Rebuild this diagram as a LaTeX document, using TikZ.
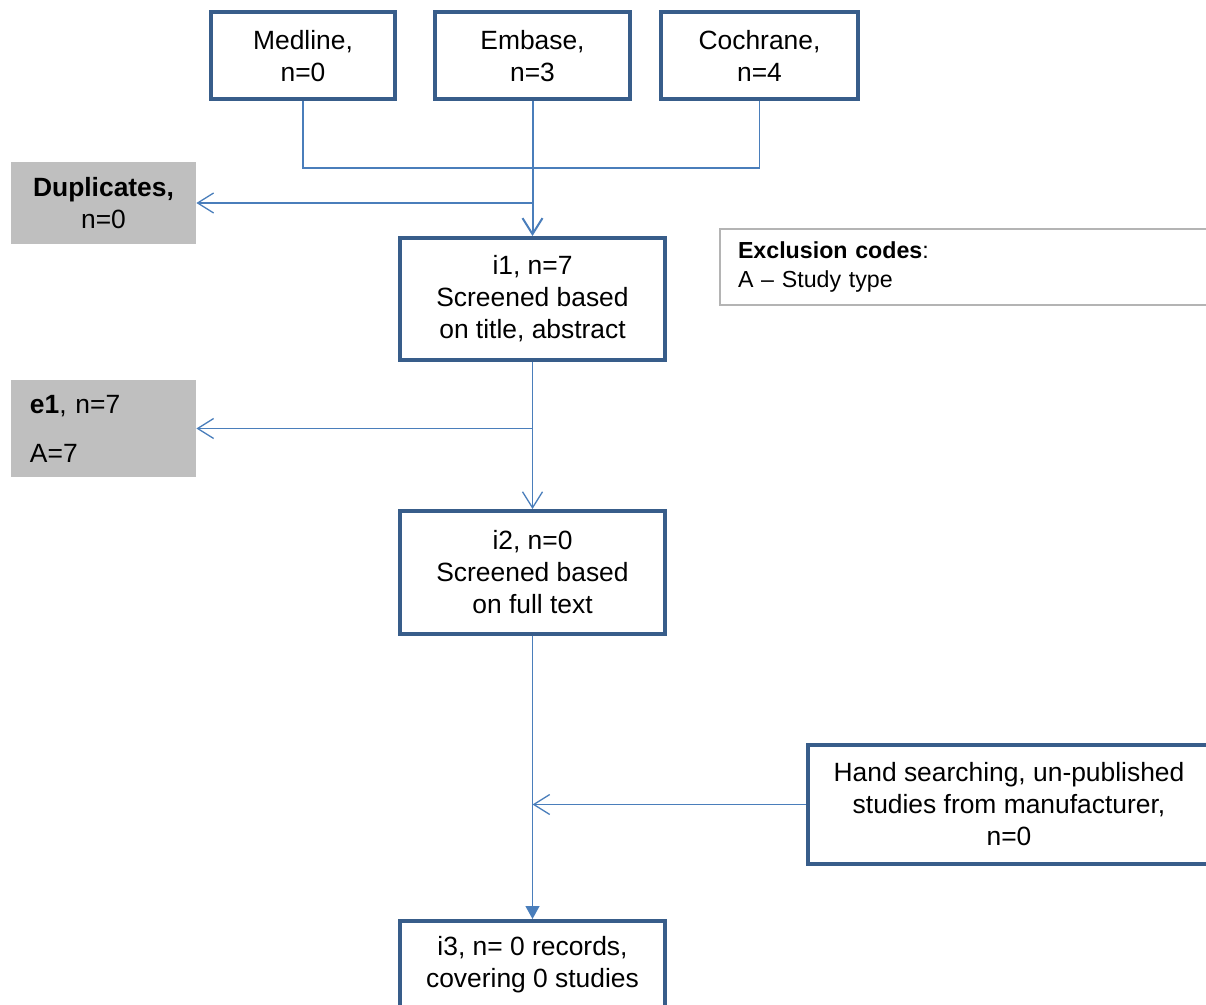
\documentclass[tikz,border=0pt]{standalone}
\usepackage{fontspec}
\setmainfont{Liberation Sans}
\usetikzlibrary{arrows.meta, positioning, calc}
\definecolor{boxblue}{HTML}{385D8A}
\definecolor{linkblue}{HTML}{4A7EBB}
\definecolor{greyfill}{HTML}{BFBFBF}
\definecolor{codegrey}{HTML}{B4B4B4}

\begin{document}
\begin{tikzpicture}[x=0.5pt, y=-0.5pt, font=\fontsize{13.2}{16}\selectfont,
  stage/.style={draw=boxblue, line width=2pt, fill=white, align=center, inner sep=0pt},
  drop/.style={fill=greyfill, inner sep=0pt},
  link/.style={draw=linkblue, line width=0.65pt},
  gap/.style={link, -{Straight Barb[length=8pt, width=10pt]}},
  feed/.style={link, -{Triangle[length=6.5pt, width=7pt]}}]
  \useasboundingbox (0,0) rectangle (1206,1005);
  \clip (0,0) rectangle (1206,1005);
  \foreach \id/\lab/\num/\xc/\bw in {medline/Medline/0/303/92, embase/Embase/3/532.5/97.5, cochrane/Cochrane/4/759.5/98.5}{%
    \node[stage, minimum width=\bw pt, minimum height=43.5pt] (\id) at (\xc,56) {\lab,\\n=\num};}
  \coordinate (merge) at (532.5,168);
  \draw[link] (medline.south) |- (merge) -| (cochrane.south);

  \node[stage, minimum width=132.5pt, minimum height=61pt] (i1) at (532.5,299)
    {i1, n=7\\Screened based\\on title, abstract};
  \draw[gap, line width=1pt] (embase.south) -- (i1.north);
  \node[drop, minimum width=92.5pt, minimum height=41pt, align=center] (dup) at (103.5,203)
    {\textbf{Duplicates,}\\n=0};
  \draw[gap] (embase.south |- dup.east) -- (dup.east);

  \node[draw=codegrey, line width=1pt, anchor=north west, text width=232pt, inner xsep=9pt,
    minimum height=38pt, align=left, font=\fontsize{11.6}{14.5}\selectfont] (codes) at (719,228)
    {\textbf{Exclusion codes}:\\A – Study type};

  \node[drop, text width=73.5pt, inner xsep=9.5pt, minimum height=48.5pt, align=left] (e1) at (103.5,428.5)
    {\textbf{e1}, n=7\\[8.5pt]A=7};
  \draw[gap] (i1.south |- e1.east) -- (e1.east);

  \node[stage, minimum width=132.5pt, minimum height=61.5pt] (i2) at (532.5,572.5)
    {i2, n=0\\Screened based\\on full text};
  \draw[gap] (i1.south) -- (i2.north);

  \node[stage, minimum width=201pt, minimum height=59.5pt] (hand) at (1009,804.5)
    {Hand searching, un-published\\studies from manufacturer,\\n=0};
  \node[stage, minimum width=132.5pt, minimum height=44pt] (i3) at (532.5,965)
    {i3, n= 0 records,\\covering 0 studies};
  \draw[feed] (i2.south) -- (i3.north);
  \draw[gap] (hand.west) -- (i2.south |- hand.west);
\end{tikzpicture}
\end{document}
